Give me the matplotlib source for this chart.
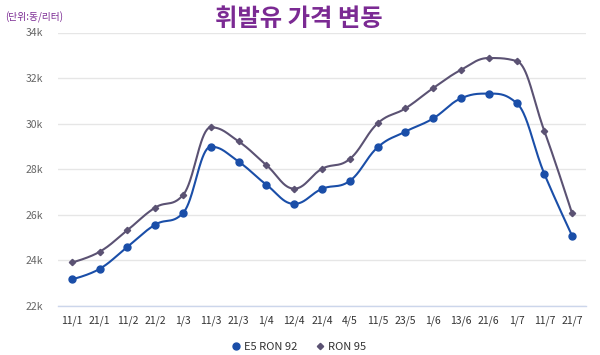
import numpy as np
import matplotlib
matplotlib.use("Agg")
import matplotlib.pyplot as plt
from matplotlib.lines import Line2D

plt.rcParams['font.family'] = ['Noto Sans CJK KR', 'DejaVu Sans']

categories = ["11/1", "21/1", "11/2", "21/2", "1/3", "11/3", "21/3", "1/4", "12/4", "21/4",
              "4/5", "11/5", "23/5", "1/6", "13/6", "21/6", "1/7", "11/7", "21/7"]
e5_ron92 = [23.17, 23.63, 24.60, 25.57, 26.08, 28.99, 28.33, 27.32, 26.48, 27.14,
            27.49, 28.96, 29.65, 30.23, 31.11, 31.32, 30.91, 27.80, 25.08]
ron95 = [23.91, 24.38, 25.33, 26.32, 26.87, 29.84, 29.22, 28.18, 27.15, 28.02,
         28.45, 30.01, 30.67, 31.56, 32.36, 32.88, 32.75, 29.68, 26.06]
yticks = [22, 24, 26, 28, 30, 32, 34]
ytick_labels = ["22k", "24k", "26k", "28k", "30k", "32k", "34k"]
series_names = ["E5 RON 92", "RON 95"]
title = "휘발유 가격 변동"
unit_label = "(단위:동/리터)"

BLUE = "#1a4ea8"
GREY = "#5b5273"
PURPLE = "#7b2a93"


def spline_path(xs, ys, n=40):
    """Highcharts-style spline: cubic Bezier segments between data points."""
    xs = np.asarray(xs, float)
    ys = np.asarray(ys, float)
    m = len(xs)
    s, d = 1.5, 2.5
    lcx, lcy = xs.copy(), ys.copy()
    rcx, rcy = xs.copy(), ys.copy()
    for i in range(1, m - 1):
        px, py = xs[i], ys[i]
        lx, ly = xs[i - 1], ys[i - 1]
        nx, ny = xs[i + 1], ys[i + 1]
        a_x = (s * px + lx) / d
        a_y = (s * py + ly) / d
        b_x = (s * px + nx) / d
        b_y = (s * py + ny) / d
        corr = 0.0
        if b_x != a_x:
            corr = (b_y - a_y) * (b_x - px) / (b_x - a_x) + py - b_y
        a_y += corr
        b_y += corr
        if a_y > ly and a_y > py:
            a_y = max(ly, py)
            b_y = 2 * py - a_y
        elif a_y < ly and a_y < py:
            a_y = min(ly, py)
            b_y = 2 * py - a_y
        if b_y > ny and b_y > py:
            b_y = max(ny, py)
            a_y = 2 * py - b_y
        elif b_y < ny and b_y < py:
            b_y = min(ny, py)
            a_y = 2 * py - b_y
        lcx[i], lcy[i], rcx[i], rcy[i] = a_x, a_y, b_x, b_y
    t = np.linspace(0, 1, n)
    out_x, out_y = [], []
    for i in range(1, m):
        p0 = (xs[i - 1], ys[i - 1])
        p1 = (rcx[i - 1], rcy[i - 1])
        p2 = (lcx[i], lcy[i])
        p3 = (xs[i], ys[i])
        bx = (1 - t) ** 3 * p0[0] + 3 * (1 - t) ** 2 * t * p1[0] + 3 * (1 - t) * t ** 2 * p2[0] + t ** 3 * p3[0]
        by = (1 - t) ** 3 * p0[1] + 3 * (1 - t) ** 2 * t * p1[1] + 3 * (1 - t) * t ** 2 * p2[1] + t ** 3 * p3[1]
        out_x.extend(bx)
        out_y.extend(by)
    return np.array(out_x), np.array(out_y)


fig = plt.figure(figsize=(6.0, 3.55), dpi=100)
ax = fig.add_axes([58 / 600, 1 - 306 / 355, (586 - 58) / 600, (306 - 32.5) / 355])

x = np.arange(len(categories))
for vals, color, marker, ms in [(ron95, GREY, 'D', 3.2), (e5_ron92, BLUE, 'o', 5)]:
    sx, sy = spline_path(x, vals)
    ax.plot(sx, sy, color=color, lw=1.5, zorder=3, solid_capstyle='round')
    ax.plot(x, vals, linestyle='none', marker=marker, markersize=ms, color=color, zorder=4)

ax.set_xlim(-0.5, len(categories) - 0.5)
ax.set_ylim(22, 34)
ax.set_yticks(yticks)
ax.set_yticklabels(ytick_labels)
ax.set_xticks(x)
ax.set_xticklabels(categories)
ax.grid(axis='y', color='#e6e6e6', lw=1)
ax.set_axisbelow(True)
for sp in ['left', 'right', 'top']:
    ax.spines[sp].set_visible(False)
ax.spines['bottom'].set_color('#ccd6eb')
ax.spines['bottom'].set_linewidth(1)
ax.tick_params(axis='y', length=0, pad=11, labelsize=7.5, labelcolor='#666666')
ax.tick_params(axis='x', length=0, pad=7, labelsize=7.5, labelcolor='#333333')

fig.text(0.4975, 1 - 19 / 355, title, ha='center', va='center', fontsize=17.5,
         fontweight='bold', color=PURPLE)
fig.text(5 / 600, 1 - 17 / 355, unit_label, ha='left', va='center', fontsize=7,
         color=PURPLE)

handles = [Line2D([], [], linestyle='none', marker='o', markersize=5, color=BLUE),
           Line2D([], [], linestyle='none', marker='D', markersize=3.2, color=GREY)]
fig.legend(handles, series_names, loc='center', bbox_to_anchor=(0.497, 1 - 347 / 355),
           ncol=2, frameon=False, fontsize=8, handletextpad=0.2, columnspacing=1.6,
           handlelength=1.0, labelcolor='#333333')

fig.savefig("out.png", dpi=100, facecolor='white')
